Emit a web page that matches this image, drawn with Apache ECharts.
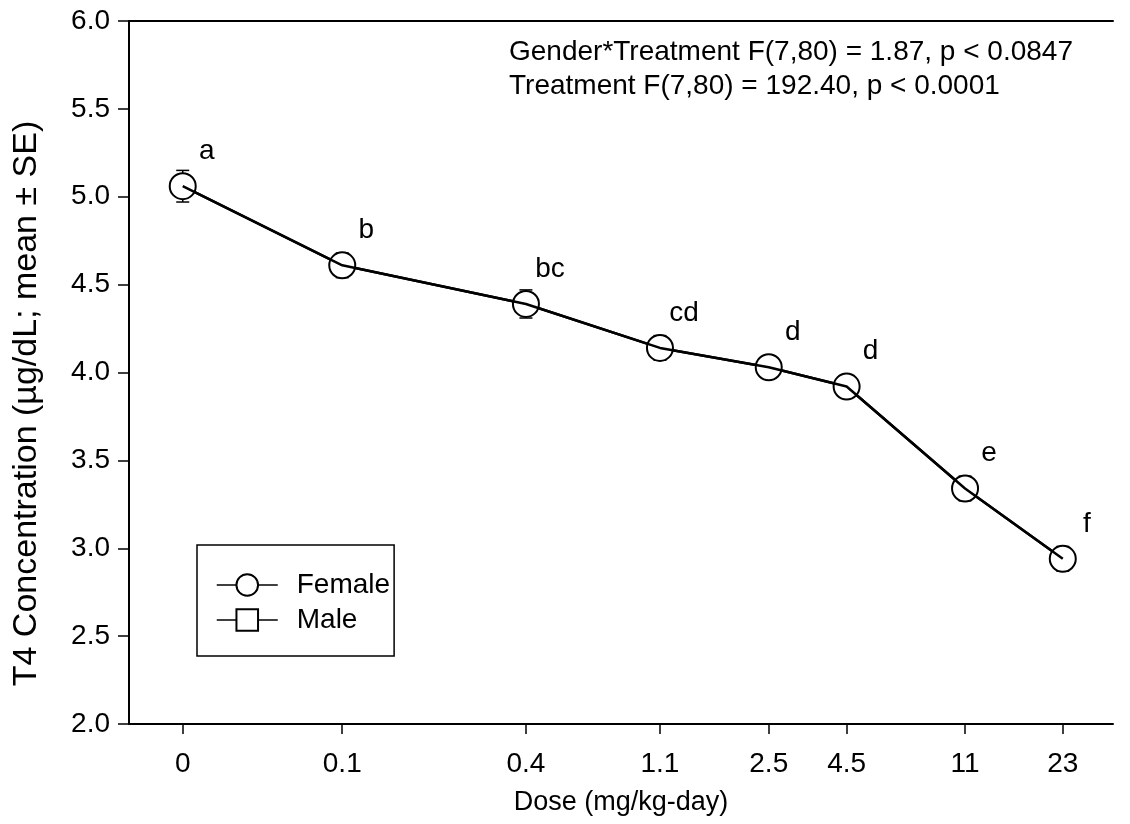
<!DOCTYPE html>
<html>
<head>
<meta charset="utf-8">
<script src="https://cdn.jsdelivr.net/npm/echarts@6/dist/echarts.min.js"></script>
<style>
  html, body { margin: 0; padding: 0; background: #fff; }
  #chart { width: 1130px; height: 824px; }
</style>
</head>
<body>
<div id="chart"></div>
<script>
// Dose groups (mg/kg-day). The control group (0) sits at 0.03 on the log axis.
const doseLabels = ['0', '0.1', '0.4', '1.1', '2.5', '4.5', '11', '23'];
const doseAxisPos = [0.03, 0.1, 0.4, 1.1, 2.5, 4.5, 11, 23];

// Female T4 concentration, mean and standard error (µg/dL)
const femaleMean = [5.06, 4.61, 4.39, 4.14, 4.03, 3.92, 3.34, 2.94];
const femaleSE = [0.09, 0.07, 0.08, 0.07, 0.05, 0.05, 0.07, 0.07];

// Significance groupings
const groupLetters = ['a', 'b', 'bc', 'cd', 'd', 'd', 'e', 'f'];

// Y axis ticks
const yMin = 2.0, yMax = 6.0, yStep = 0.5;

const statLines = [
  'Gender*Treatment F(7,80) = 1.87, p < 0.0847',
  'Treatment F(7,80) = 192.40, p < 0.0001'
];

const FONT = '"Liberation Sans", Arial, Helvetica, sans-serif';
const FS = 28;

const femalePoints = doseAxisPos.map((x, i) => [x, femaleMean[i]]);
const errorData = doseAxisPos.map((x, i) => [x, femaleMean[i] - femaleSE[i], femaleMean[i] + femaleSE[i]]);

function labelFor(v) {
  for (let i = 0; i < doseAxisPos.length; i++) {
    if (Math.abs(v - doseAxisPos[i]) < 1e-6 * Math.max(1, doseAxisPos[i])) return doseLabels[i];
  }
  return '';
}

const chart = echarts.init(document.getElementById('chart'), null, { renderer: 'canvas' });

const xMin = 0.02, xMax = 33.6;

chart.setOption({
  animation: false,
  backgroundColor: '#fff',
  textStyle: { fontFamily: FONT, color: '#000' },
  grid: { left: 129, right: 17, top: 21, bottom: 100, containLabel: false, outerBoundsMode: 'none' },
  xAxis: [
    {
      type: 'log',
      logBase: 10,
      min: xMin,
      max: xMax,
      name: 'Dose (mg/kg-day)',
      nameLocation: 'middle',
      nameGap: 65,
      nameTextStyle: { fontFamily: FONT, fontSize: 27, color: '#000' },
      axisLine: { show: true, onZero: false, lineStyle: { color: '#000', width: 2 } },
      axisTick: { show: true, inside: false, length: 10, customValues: doseAxisPos, lineStyle: { color: '#000', width: 1.5 } },
      axisLabel: {
        show: true, margin: 26, customValues: doseAxisPos,
        formatter: (v) => labelFor(v),
        fontFamily: FONT, fontSize: FS, color: '#000'
      },
      minorTick: { show: false },
      splitLine: { show: false }
    },
    {
      type: 'log',
      position: 'top',
      min: xMin,
      max: xMax,
      axisLine: { show: true, onZero: false, lineStyle: { color: '#000', width: 2 } },
      axisTick: { show: false },
      axisLabel: { show: false },
      splitLine: { show: false }
    }
  ],
  yAxis: {
    type: 'value',
    min: yMin,
    max: yMax,
    interval: yStep,
    name: 'T4 Concentration (µg/dL; mean ± SE)',
    nameLocation: 'middle',
    nameGap: 85,
    nameTextStyle: { fontFamily: FONT, fontSize: 34, color: '#000', padding: [0, 62, 0, 0] },
    axisLine: { show: true, onZero: false, lineStyle: { color: '#000', width: 2 } },
    axisTick: { show: true, inside: false, length: 11, lineStyle: { color: '#000', width: 1.5 } },
    axisLabel: { margin: 19, fontFamily: FONT, fontSize: FS, color: '#000', formatter: (v) => v.toFixed(1) },
    splitLine: { show: false }
  },
  legend: {
    orient: 'vertical',
    left: 197,
    top: 545,
    padding: [26, 4, 22, 19],
    itemGap: 7,
    itemWidth: 61,
    itemHeight: 27,
    borderColor: '#000',
    borderWidth: 1.5,
    borderRadius: 0,
    lineStyle: { width: 1.5 },
    textStyle: { fontFamily: FONT, fontSize: FS, color: '#000', padding: [0, 0, 0, 14] },
    data: ['Female', 'Male']
  },
  graphic: [
    {
      type: 'text',
      left: 509,
      top: 35,
      style: {
        text: statLines.join('\n'),
        font: FS + 'px ' + FONT,
        fill: '#000',
        lineHeight: 34
      }
    }
  ],
  series: [
    {
      // standard error bars with caps
      type: 'custom',
      name: 'SE',
      z: 1,
      silent: true,
      data: errorData,
      encode: { x: 0, y: [1, 2] },
      renderItem: function (params, api) {
        const x = api.value(0);
        const lo = api.coord([x, api.value(1)]);
        const hi = api.coord([x, api.value(2)]);
        const cap = 6.5;
        const style = { stroke: '#000', lineWidth: 1.5, fill: null };
        return {
          type: 'group',
          children: [
            { type: 'line', shape: { x1: lo[0], y1: lo[1], x2: hi[0], y2: hi[1] }, style: style },
            { type: 'line', shape: { x1: lo[0] - cap, y1: lo[1], x2: lo[0] + cap, y2: lo[1] }, style: style },
            { type: 'line', shape: { x1: hi[0] - cap, y1: hi[1], x2: hi[0] + cap, y2: hi[1] }, style: style }
          ]
        };
      }
    },
    {
      type: 'line',
      name: 'Female',
      z: 2,
      data: femalePoints,
      symbol: 'emptyCircle',
      symbolSize: 26,
      showAllSymbol: true,
      itemStyle: { color: '#000', borderWidth: 1.5 },
      lineStyle: { color: '#000', width: 2.5 },
      label: {
        show: true,
        position: 'inside',
        offset: [24, -35],
        formatter: (p) => groupLetters[p.dataIndex],
        fontFamily: FONT,
        fontSize: FS,
        color: '#000'
      }
    },
    {
      // connecting line drawn over the markers
      type: 'line',
      name: 'Female trend',
      z: 3,
      silent: true,
      data: femalePoints,
      symbol: 'none',
      lineStyle: { color: '#000', width: 2.5 }
    },
    {
      type: 'line',
      name: 'Male',
      z: 2,
      data: [],
      symbol: 'emptyRect',
      symbolSize: 22,
      itemStyle: { color: '#000', borderWidth: 1.5 },
      lineStyle: { color: '#000', width: 1.5 }
    }
  ]
});
</script>
</body>
</html>
